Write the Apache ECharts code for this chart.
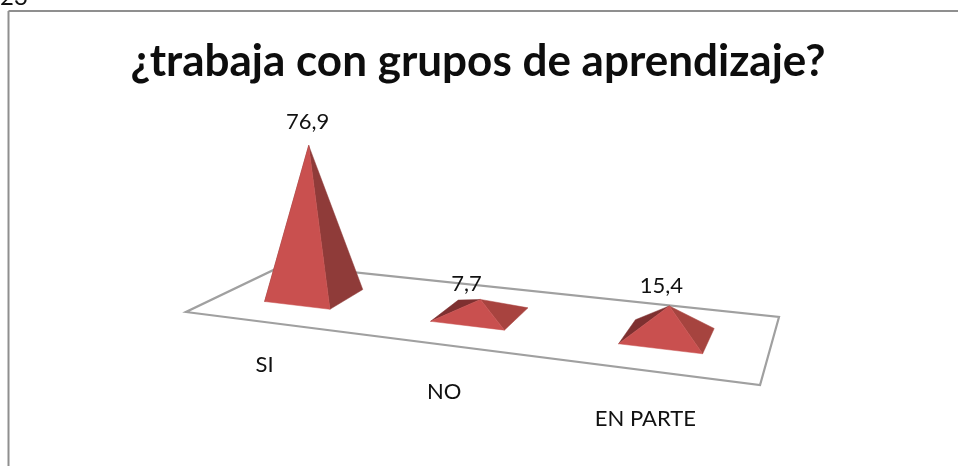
<!DOCTYPE html>
<html><head><meta charset="utf-8">
<style>html,body{margin:0;padding:0;background:#fff}#c{width:958px;height:466px}</style>
<script src="https://cdn.jsdelivr.net/npm/echarts@6/dist/echarts.min.js"></script>
</head><body><div id="c"></div>
<script>
const titleText = '¿trabaja con grupos de aprendizaje?';
const categories = ['SI', 'NO', 'EN PARTE'];
const values = [76.9, 7.7, 15.4];
const valueLabels = ['76,9', '7,7', '15,4'];
const pageNumber = '23';

// layout only
const FONT = 'Lato, "Noto Sans", sans-serif';
const GRID = {left: 186, top: 165, width: 574, height: 195};
const FLOOR = {a: 436.1, b: 145.3, c: 186, d: 3.1, e: -2.9, f: 312, g: -0.1815, h: 0.1666};
const HALF_U = 0.068, HALF_V = 0.195;
const VALUE_SHIFT = [[-1, -24], [-14, -16], [-8, -20]];
const CAT_SHIFT = [[-50, 70], [-36, 77], [-22, 83]];
const C = {front: '#c9504f', right: ['#8f3b39', '#a8433f', '#a6443f'], left: '#7e3030', floor: '#a0a0a0', frame: '#8f8f8f'};

function floorPt(u, v) {
  const w = 1 + FLOOR.g * u + FLOOR.h * v;
  return [(FLOOR.a * u + FLOOR.b * v + FLOOR.c) / w, (FLOOR.d * u + FLOOR.e * v + FLOOR.f) / w];
}
function renderFloor(params, api) {
  const pts = [[0, 0], [1, 0], [1, 1], [0, 1]].map(p => floorPt(p[0], p[1]));
  return {type: 'polygon', shape: {points: pts}, style: {fill: '#fff', stroke: C.floor, lineWidth: 2.2}};
}
function renderPyramid(params, api) {
  const i = api.value(0), val = api.value(1);
  const base = api.coord([i, 0]), top = api.coord([i, val]);
  const u = (base[0] - GRID.left) / GRID.width, v = 0.5;
  const center = floorPt(u, v);
  const h = base[1] - top[1];
  const apex = [center[0] + (center[0] - 451) * 0.00029 * h, center[1] - h];
  const FL = floorPt(u - HALF_U, v - HALF_V), FR = floorPt(u + HALF_U, v - HALF_V);
  const BR = floorPt(u + HALF_U, v + HALF_V), BL = floorPt(u - HALF_U, v + HALF_V);
  const face = (pts, fill) => ({type: 'polygon', shape: {points: pts},
    style: {fill: fill, stroke: fill, lineWidth: 0.5, lineJoin: 'round'}});
  const label = (x, y, text) => ({type: 'text', style: {x, y, text, fill: '#111', fontSize: 22,
    fontFamily: FONT, align: 'center', verticalAlign: 'middle'}});
  return {type: 'group', children: [
    face([FL, BL, apex], C.left),
    face([FR, BR, apex], C.right[i]),
    face([FL, FR, apex], C.front),
    label(apex[0] + VALUE_SHIFT[i][0], apex[1] + VALUE_SHIFT[i][1], valueLabels[i]),
    label(center[0] + CAT_SHIFT[i][0], center[1] + CAT_SHIFT[i][1], categories[i])
  ]};
}

const chart = echarts.init(document.getElementById('c'));
chart.setOption({
  animation: false,
  backgroundColor: '#fff',
  title: {text: titleText, left: 476, top: 35, textAlign: 'center',
    textStyle: {fontFamily: FONT, fontWeight: 'bold', fontSize: 44, color: '#0d0d0d'}},
  grid: GRID,
  xAxis: {type: 'category', data: categories, show: false},
  yAxis: {type: 'value', min: 0, max: 100, show: false},
  graphic: [
    {type: 'line', shape: {x1: 8.5, y1: 11, x2: 958, y2: 11}, style: {stroke: C.frame, lineWidth: 2}},
    {type: 'line', shape: {x1: 8.5, y1: 11, x2: 8.5, y2: 466}, style: {stroke: C.frame, lineWidth: 2}},
    {type: 'text', x: 0, y: -15, style: {text: pageNumber, fontSize: 24, fontFamily: FONT, fill: '#111'}}
  ],
  series: [
    {type: 'custom', coordinateSystem: 'cartesian2d', data: [[0, 0]], renderItem: renderFloor, silent: true, z: 1},
    {type: 'custom', coordinateSystem: 'cartesian2d', name: 'Porcentaje',
      data: values.map((val, i) => [i, val]), renderItem: renderPyramid, z: 2}
  ]
});
chart.setOption({title: {left: 473}});
</script></body></html>
